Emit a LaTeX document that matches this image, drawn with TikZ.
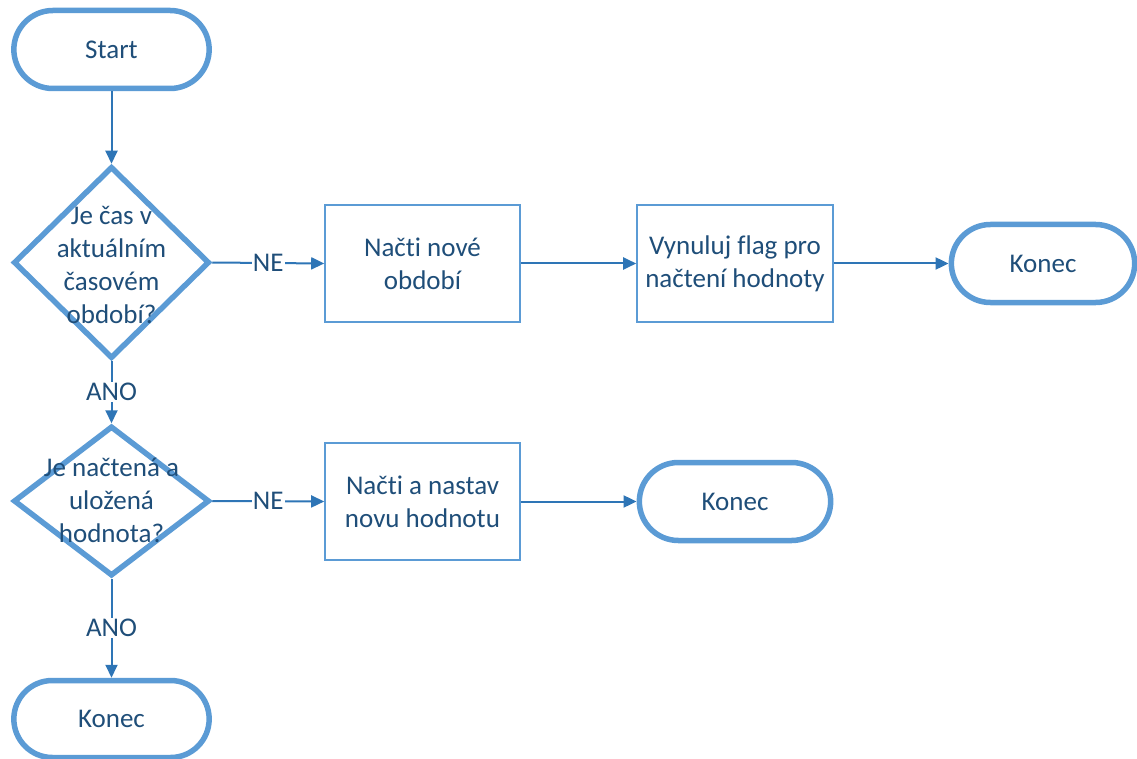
\documentclass[tikz,border=0pt]{standalone}
\usepackage{fontspec}
\setmainfont[Ligatures=NoCommon]{Carlito}
\usetikzlibrary{shapes.geometric,shapes.misc,arrows.meta}
\definecolor{edgeblue}{HTML}{5B9BD5}
\definecolor{linkblue}{HTML}{2E75B6}
\definecolor{inkblue}{HTML}{1F4E79}
\tikzset{
  txt/.style={text=inkblue, font=\fontsize{27}{33}\selectfont, align=center},
  term/.style={rounded rectangle, draw=edgeblue, line width=5.5pt, fill=white, txt},
  decision/.style={diamond, draw=edgeblue, line width=5.5pt, fill=white, inner sep=0pt},
  stepbox/.style={rectangle, draw=edgeblue, line width=1.6pt, fill=white, txt},
  link/.style={draw=linkblue, line width=2pt, -{Triangle[length=13pt,width=12pt]}},
  branch/.style={fill=white, inner sep=1pt, txt}
}
\begin{document}
\begin{tikzpicture}[x=1pt, y=-1pt]
  \useasboundingbox (0,0) rectangle (1137,759);

  % terminators
  \node[term, minimum width=202pt, minimum height=78pt] (start) at (111.5,49.5) {Start};
  \node[term, minimum width=190pt, minimum height=78pt] (endA) at (1043,263.5) {Konec};
  \node[term, minimum width=198pt, minimum height=78pt] (endB) at (735,501.5) {Konec};
  \node[term, minimum width=202pt, minimum height=77pt] (endC) at (111.5,719) {Konec};

  % decisions
  \node[decision, minimum width=196pt, minimum height=192pt] (dec1) at (111.5,262.5) {};
  \node[txt] (dec1txt) at (111.5,265) {Je čas v\\aktuálním\\časovém\\období?};
  \node[decision, minimum width=196pt, minimum height=150pt] (dec2) at (111.5,501) {};
  \node[txt] (dec2txt) at (111.5,500) {Je načtená a\\uložená\\hodnota?};

  % process steps
  \node[stepbox, minimum width=195pt, minimum height=117pt] (load) at (422.5,263.5) {Načti nové\\období};
  \node[stepbox, minimum width=196pt, minimum height=117pt] (reset) at (735,263.5) {Vynuluj flag pro\\načtení hodnoty};
  \node[stepbox, minimum width=195pt, minimum height=117pt] (set) at (422.5,501.5) {Načti a nastav\\novu hodnotu};

  % connectors
  \draw[link] (start.south) -- (dec1.north);
  \draw[link] (dec1.east) -- node[branch] (ne1) {NE} (load.west);
  \draw[link] (load.east) -- (reset.west);
  \draw[link] (reset.east) -- (endA.west);
  \draw[link] (dec1.south) -- node[branch] (ano1) {ANO} (dec2.north);
  \draw[link] (dec2.east) -- node[branch] (ne2) {NE} (set.west);
  \draw[link] (set.east) -- (endB.west);
  \draw[link] (dec2.south) -- node[branch] (ano2) {ANO} (endC.north);
\end{tikzpicture}
\end{document}
